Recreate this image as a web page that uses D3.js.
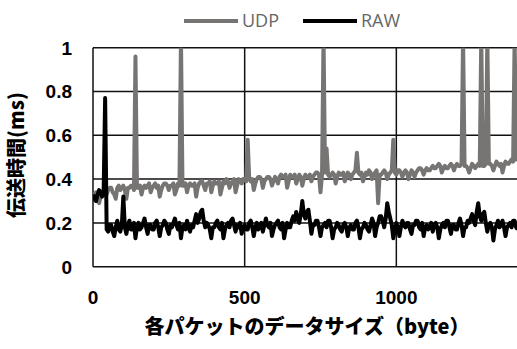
<!DOCTYPE html>
<html><head><meta charset="utf-8">
<script src="https://cdn.jsdelivr.net/npm/d3@7"></script>
<style>html,body{margin:0;padding:0;background:#fff;overflow:hidden}</style>
</head><body>
<svg id="c" width="517" height="349"></svg>
<script>
const sizes = d3.range(0, 1401, 5);
const udp = [
0.31,0.33,0.34,0.30,0.29,0.32,0.33,0.35,0.34,0.33,0.35,0.36,0.36,0.34,0.33,0.31,0.36,0.37,0.35,0.36,
0.37,0.35,0.31,0.36,0.36,0.37,0.37,0.35,0.96,0.36,0.36,0.37,0.33,0.36,0.37,0.36,0.37,0.38,0.34,0.36,
0.37,0.38,0.36,0.37,0.32,0.35,0.37,0.38,0.38,0.37,0.35,0.37,0.37,0.38,0.33,0.35,0.38,0.37,1.05,0.37,
0.37,0.38,0.34,0.37,0.38,0.37,0.37,0.38,0.32,0.36,0.38,0.39,0.39,0.37,0.35,0.38,0.38,0.39,0.34,0.37,
0.39,0.38,0.38,0.39,0.33,0.36,0.39,0.38,0.40,0.39,0.36,0.38,0.39,0.40,0.34,0.37,0.40,0.39,0.38,0.40,
0.40,0.39,0.58,0.40,0.39,0.40,0.35,0.38,0.40,0.41,0.41,0.40,0.36,0.39,0.40,0.41,0.41,0.40,0.37,0.39,
0.41,0.40,0.38,0.41,0.42,0.41,0.41,0.42,0.36,0.39,0.42,0.41,0.41,0.42,0.38,0.40,0.42,0.41,0.37,0.40,
0.42,0.41,0.41,0.42,0.39,0.41,0.42,0.43,0.43,0.42,0.34,0.42,1.05,0.43,0.54,0.42,0.41,0.42,0.43,0.42,
0.38,0.41,0.43,0.42,0.42,0.43,0.39,0.41,0.43,0.42,0.40,0.42,0.43,0.44,0.52,0.43,0.42,0.43,0.39,0.41,
0.43,0.42,0.44,0.43,0.40,0.42,0.43,0.44,0.29,0.42,0.42,0.43,0.44,0.43,0.40,0.42,0.43,0.44,0.58,0.43,
0.42,0.44,0.44,0.43,0.41,0.43,0.44,0.43,0.40,0.42,0.44,0.43,0.41,0.43,0.44,0.45,0.45,0.44,0.42,0.44,
0.45,0.44,0.44,0.45,0.46,0.45,0.45,0.46,0.47,0.46,0.43,0.45,0.46,0.45,0.45,0.46,0.47,0.46,0.44,0.46,
0.47,0.46,0.46,0.47,1.05,0.46,0.46,0.45,0.43,0.45,0.47,0.46,0.45,0.46,0.47,0.46,1.05,0.46,0.46,0.47,
1.05,0.47,0.47,0.46,0.44,0.46,0.48,0.47,0.46,0.47,0.43,0.46,0.48,0.47,0.47,0.48,0.49,0.48,1.05,0.49,
0.49];
const raw = [
0.33,0.31,0.30,0.33,0.35,0.34,0.32,0.34,0.77,0.17,0.16,0.19,0.19,0.16,0.14,0.18,0.21,0.17,0.16,0.19,
0.32,0.18,0.15,0.19,0.21,0.17,0.17,0.20,0.13,0.18,0.20,0.17,0.18,0.20,0.22,0.18,0.15,0.19,0.19,0.17,
0.17,0.20,0.21,0.18,0.14,0.18,0.19,0.21,0.20,0.17,0.15,0.19,0.18,0.20,0.22,0.19,0.17,0.20,0.13,0.18,
0.19,0.17,0.21,0.18,0.16,0.19,0.18,0.21,0.24,0.20,0.22,0.25,0.26,0.21,0.18,0.20,0.19,0.17,0.13,0.18,
0.18,0.20,0.21,0.18,0.17,0.20,0.13,0.17,0.19,0.20,0.18,0.21,0.22,0.19,0.16,0.19,0.18,0.20,0.15,0.18,
0.19,0.17,0.17,0.20,0.21,0.18,0.14,0.18,0.20,0.17,0.18,0.20,0.16,0.19,0.22,0.19,0.18,0.20,0.14,0.17,
0.19,0.20,0.21,0.18,0.17,0.20,0.13,0.17,0.20,0.18,0.18,0.21,0.23,0.21,0.25,0.22,0.20,0.24,0.30,0.24,
0.22,0.25,0.26,0.21,0.15,0.19,0.19,0.21,0.21,0.18,0.14,0.18,0.19,0.20,0.18,0.21,0.21,0.18,0.13,0.17,
0.18,0.20,0.19,0.17,0.16,0.19,0.20,0.18,0.14,0.18,0.19,0.17,0.17,0.20,0.21,0.18,0.13,0.17,0.18,0.20,
0.19,0.17,0.16,0.19,0.22,0.20,0.14,0.18,0.20,0.23,0.23,0.21,0.18,0.22,0.29,0.25,0.22,0.19,0.13,0.17,
0.20,0.18,0.14,0.18,0.21,0.19,0.18,0.20,0.20,0.17,0.15,0.19,0.19,0.21,0.21,0.18,0.17,0.20,0.14,0.18,
0.19,0.17,0.18,0.20,0.16,0.19,0.20,0.18,0.13,0.17,0.19,0.20,0.18,0.21,0.21,0.18,0.15,0.19,0.19,0.17,
0.17,0.20,0.22,0.19,0.14,0.18,0.18,0.21,0.20,0.22,0.24,0.21,0.19,0.25,0.29,0.23,0.21,0.24,0.25,0.20,
0.16,0.19,0.20,0.18,0.12,0.17,0.19,0.21,0.18,0.19,0.21,0.18,0.14,0.18,0.19,0.20,0.18,0.21,0.21,0.18,
0.17];
const xTicks = [0, 500, 1000];
const yTicks = [0, 0.2, 0.4, 0.6, 0.8, 1];
const seriesNames = ["UDP", "RAW"];
const xTitle = "各パケットのデータサイズ（byte）";
const yTitle = "伝送時間(ms)";

const svg = d3.select("#c");
const x = d3.scaleLinear().domain([0, 1500]).range([93, 548]);
const y = d3.scaleLinear().domain([0, 1]).range([266.7, 47.7]);

svg.append("defs").append("clipPath").attr("id","pc").append("rect")
  .attr("x", 93).attr("y", 47.7).attr("width", 455).attr("height", 219);

const grid = svg.append("g");
grid.selectAll("line.h").data(yTicks).join("line")
  .attr("x1", x(0)).attr("x2", x(1500)).attr("y1", d=>y(d)).attr("y2", d=>y(d))
  .attr("stroke", "#111").attr("stroke-width", 1.5);
grid.selectAll("line.v").data([0,500,1000,1500]).join("line")
  .attr("y1", y(0)).attr("y2", y(1)).attr("x1", d=>x(d)).attr("x2", d=>x(d))
  .attr("stroke", "#111").attr("stroke-width", 1.5);

const line = d3.line().x((d,i)=>x(sizes[i])).y(d=>y(d));
const colors = ["#777474", "#000"];
const g = svg.append("g").attr("clip-path","url(#pc)");
[udp, raw].forEach((s,k)=>{
  g.append("path").datum(s).attr("d", line).attr("fill","none")
    .attr("stroke", colors[k]).attr("stroke-width", 4)
    .attr("stroke-linejoin","round");
});

const font = "'Liberation Sans', Arial, sans-serif";
svg.append("g").selectAll("text").data(yTicks).join("text")
  .attr("x", 72).attr("y", d=>y(d)).attr("dy","0.36em")
  .attr("text-anchor","end").attr("font-family", font).attr("font-weight","bold")
  .attr("font-size", 19).text(d=>d3.format("~g")(d));
svg.append("g").selectAll("text").data(xTicks).join("text")
  .attr("x", d=>x(d)).attr("y", 304)
  .attr("text-anchor","middle").attr("font-family", font).attr("font-weight","bold")
  .attr("font-size", 19).text(d=>d);

svg.append("text").attr("x", 307).attr("y", 334).attr("text-anchor","middle")
  .attr("font-family","'Noto Sans CJK JP', sans-serif").attr("font-weight","900")
  .attr("font-size", 20).text(xTitle);
svg.append("text").attr("transform","translate(24,155) rotate(-90)")
  .attr("text-anchor","middle")
  .attr("font-family","'Noto Sans CJK JP', sans-serif").attr("font-weight","900")
  .attr("font-size", 20).text(yTitle);

const leg = svg.append("g");
const lx = [184, 303];
seriesNames.forEach((n,k)=>{
  leg.append("line").attr("x1", lx[k]).attr("x2", lx[k]+54).attr("y1", 21).attr("y2", 21)
    .attr("stroke", colors[k]).attr("stroke-width", 4);
  leg.append("text").attr("x", lx[k]+58).attr("y", 21).attr("dy","0.36em")
    .attr("font-family", "'Open Sans', sans-serif").attr("font-size", 18)
    .attr("fill", "#666").text(n);
});
</script>
</body></html>
